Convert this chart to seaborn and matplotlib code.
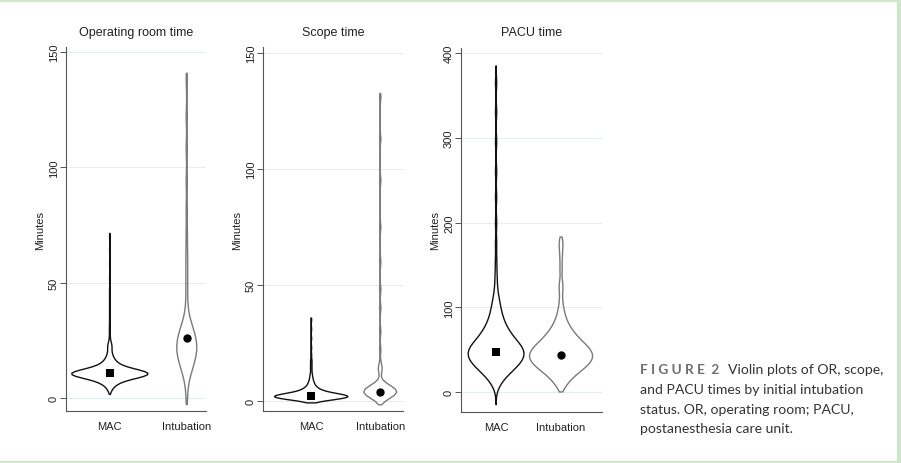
import numpy as np
import pandas as pd
import matplotlib
matplotlib.use("Agg")
import matplotlib.pyplot as plt
from matplotlib.patches import Rectangle
import seaborn as sns

# ---------------------------------------------------------------
# data: minutes (value, no. of cases)
# ---------------------------------------------------------------
groups = ["MAC", "Intubation"]
panel_titles = ["Operating room time", "Scope time", "PACU time"]

or_mac_minutes = [3, 4, 5, 6, 7, 8, 9, 10, 11, 12, 13, 14, 15, 16, 17, 18, 19, 20, 21, 22, 23, 24,
                  26, 28, 30, 32, 35, 38, 41, 44, 47, 52, 58, 64, 70]
or_mac_counts = [2, 3, 5, 8, 12, 20, 35, 55, 55, 35, 20, 13, 9, 7, 5, 4, 3, 2, 2, 3, 3, 2,
                 1, 1, 1, 1, 1, 1, 1, 1, 1, 1, 1, 1, 1]
or_int_minutes = [0, 6, 9, 11, 13, 15, 17, 19, 21, 23, 25, 27, 29, 31, 33, 36, 40, 46, 52, 58,
                  64, 72, 82, 94, 108, 122, 138]
or_int_counts = [1, 1, 1, 2, 2, 3, 3, 4, 4, 4, 4, 3, 3, 2, 2, 1, 1, 1, 1, 1,
                 1, 1, 1, 1, 1, 1, 1]

scope_mac_minutes = [0, 1, 2, 3, 4, 5, 6, 7, 8, 9, 10, 11, 12, 13, 14, 15, 16, 17, 18, 20,
                     23, 27, 31, 35]
scope_mac_counts = [15, 45, 60, 40, 20, 12, 8, 5, 4, 3, 2, 2, 1, 1, 1, 1, 1, 1, 1, 1,
                    1, 1, 1, 1]
scope_int_minutes = [0, 1, 2, 3, 4, 5, 6, 7, 8, 12, 14, 16, 22, 30, 40, 48, 60, 75, 95, 113, 131]
scope_int_counts = [2, 3, 5, 7, 8, 7, 5, 3, 2, 1, 2, 1, 1, 1, 1, 1, 1, 1, 1, 1, 1]

pacu_mac_minutes = [5, 10, 15, 20, 25, 30, 35, 40, 45, 50, 55, 60, 65, 70, 75, 80, 85, 90, 95,
                    100, 105, 110, 115, 120, 130, 140, 155, 175, 200, 230, 260, 295, 330, 365]
pacu_mac_counts = [1, 2, 3, 5, 7, 9, 11, 12, 13, 12, 11, 9, 7, 6, 5, 4, 3, 3, 2,
                   2, 2, 1, 1, 1, 1, 1, 1, 1, 1, 1, 1, 1, 1, 1]
pacu_int_minutes = [5, 10, 15, 20, 25, 30, 35, 40, 45, 50, 55, 60, 65, 70, 75, 80, 85, 90, 95,
                    100, 110, 122, 128, 145, 160, 172, 178]
pacu_int_counts = [1, 2, 3, 4, 6, 8, 9, 10, 10, 9, 8, 6, 5, 4, 3, 2, 2, 1, 1,
                   1, 1, 1, 1, 1, 1, 1, 1]

or_medians = [11, 26]
scope_medians = [2, 4]
pacu_medians = [47, 44]

panels = [
    {"mac": (or_mac_minutes, or_mac_counts), "int": (or_int_minutes, or_int_counts),
     "medians": or_medians, "yticks": [0, 50, 100, 150]},
    {"mac": (scope_mac_minutes, scope_mac_counts), "int": (scope_int_minutes, scope_int_counts),
     "medians": scope_medians, "yticks": [0, 50, 100, 150]},
    {"mac": (pacu_mac_minutes, pacu_mac_counts), "int": (pacu_int_minutes, pacu_int_counts),
     "medians": pacu_medians, "yticks": [0, 100, 200, 300, 400]},
]

# ---------------------------------------------------------------
# layout / style (pixel boxes of the Stata graph)
# ---------------------------------------------------------------
W, H = 901, 464
axes_px = [(66, 48, 206, 412), (263, 48, 403, 412), (461, 49, 602, 413)]
ylims = [(-5.6, 152.2), (-4.3, 152.6), (-23.6, 406)]
xlims = [(-0.57, 1.25), (-0.70, 1.33), (-0.54, 1.63)]
# per violin: kde bandwidth (minutes), cut, full width (category units)
violin_style = [
    {"MAC": (1.4, 1.0, 0.99), "Intubation": (4.0, 0.7, 0.26)},
    {"MAC": (0.8, 1.0, 1.06), "Intubation": (1.6, 1.0, 0.48)},
    {"MAC": (8.0, 2.5, 0.86), "Intubation": (7.0, 0.7, 0.97)},
]
line_colors = {"MAC": "#111111", "Intubation": "#7a7a7a"}
median_markers = {"MAC": "s", "Intubation": "o"}

sns.set_theme(style="white")
plt.rcParams["font.family"] = ["Liberation Sans", "DejaVu Sans"]

fig = plt.figure(figsize=(W / 100, H / 100), dpi=100)

for i, panel in enumerate(panels):
    left, top, right, bottom = axes_px[i]
    ax = fig.add_axes([left / W, 1 - bottom / H, (right - left) / W, (bottom - top) / H])

    for g, key in zip(groups, ["mac", "int"]):
        minutes, counts = panel[key]
        df = pd.DataFrame({"group": g, "minutes": np.repeat(minutes, counts)})
        bw, cut, width = violin_style[i][g]
        sns.violinplot(data=df, x="group", y="minutes", order=groups,
                       color=line_colors[g], fill=False, inner=None,
                       linewidth=1.0, bw_method=bw / df["minutes"].std(),
                       cut=cut, width=width, density_norm="width", ax=ax)
        sns.stripplot(x=[g], y=[panel["medians"][groups.index(g)]], order=groups,
                      jitter=False, marker=median_markers[g], color="black",
                      size=6, linewidth=0, ax=ax)

    ax.set_xlim(*xlims[i])
    ax.set_ylim(*ylims[i])
    ax.set_yticks(panel["yticks"])
    ax.set_title(panel_titles[i], fontsize=9, color="#222222", pad=9)
    ax.set_xlabel("")
    ax.set_ylabel("Minutes", fontsize=8, color="#222222", labelpad=3)
    ax.grid(axis="y", color="#e4eef0", linewidth=0.8)
    ax.set_axisbelow(True)
    for s in ["top", "right"]:
        ax.spines[s].set_visible(False)
    for s in ["left", "bottom"]:
        ax.spines[s].set_color("#555555")
        ax.spines[s].set_linewidth(0.8)
    ax.tick_params(axis="y", length=4, width=0.7, color="#555555", direction="out",
                   labelsize=8, labelcolor="#222222", pad=1, left=True, labelrotation=90)
    for lab in ax.get_yticklabels():
        lab.set_va("center")
    ax.tick_params(axis="x", length=0, labelsize=8, labelcolor="#222222", pad=7)

# light green page frame
frame_color = "#cfe6cb"
fig.patches.append(Rectangle((897 / W, 0), 4 / W, 1, transform=fig.transFigure,
                             color=frame_color, zorder=0))
fig.patches.append(Rectangle((0, 1 - 1.5 / H), 1, 1.5 / H, transform=fig.transFigure,
                             color=frame_color, zorder=0))
fig.patches.append(Rectangle((0, 0), 1, 2 / H, transform=fig.transFigure,
                             color=frame_color, zorder=0))

# caption
cap_font = ["Lato", "DejaVu Sans"]
cap_size = 10.1
fig.text(640 / W, 1 - 370 / H, "F I G U R E  2",
         family=cap_font, fontsize=cap_size - 0.3, fontweight="bold", color="#6e6e6e",
         va="center")
fig.text(728 / W, 1 - 370 / H, "Violin plots of OR, scope,",
         family=cap_font, fontsize=cap_size, color="#333333", va="center")
caption_rest = ["and PACU times by initial intubation",
                "status. OR, operating room; PACU,",
                "postanesthesia care unit."]
for k, line in enumerate(caption_rest):
    fig.text(640 / W, 1 - (390 + 19.7 * k) / H, line,
             family=cap_font, fontsize=cap_size, color="#333333", va="center")

fig.savefig("out.png", dpi=100)
